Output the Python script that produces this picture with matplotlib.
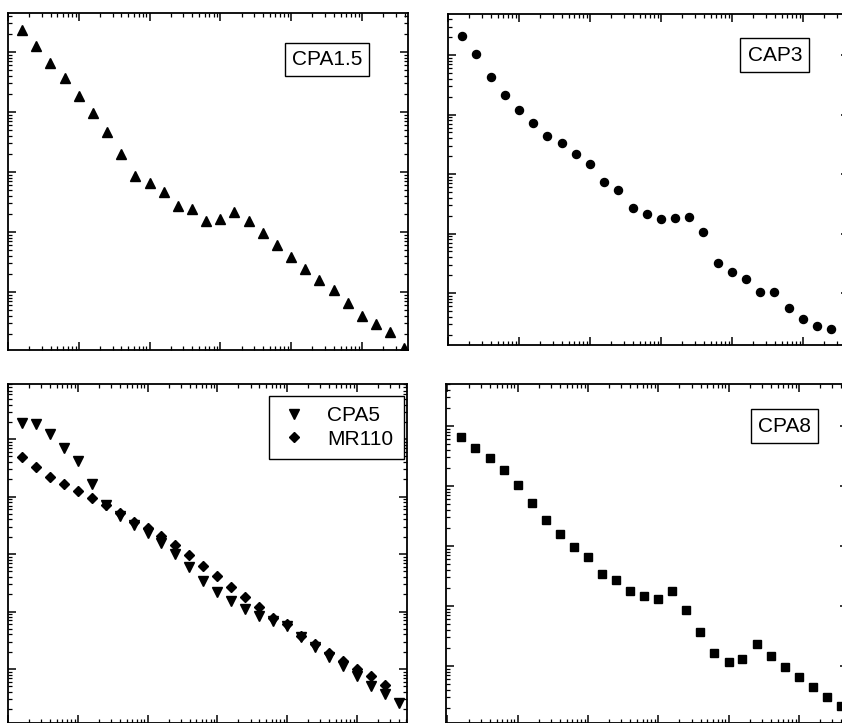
import numpy as np
import matplotlib
matplotlib.use("Agg")
import matplotlib.pyplot as plt
from matplotlib.ticker import NullFormatter

plt.rcParams["font.family"] = ["Liberation Sans", "DejaVu Sans"]

# x positions (same grid in all panels)
x = [1.58, 2.51, 3.98, 6.31, 10, 15.8, 25.1, 39.8, 63.1, 100,
     158, 251, 398, 631, 1000, 1580, 2510, 3980, 6310, 10000,
     15800, 25100, 39800, 63100, 100000, 158000, 251000, 398000]

# y values, as log10
cpa15_log = [4.36, 4.10, 3.81, 3.56, 3.27, 2.98, 2.66, 2.30, 1.93, 1.82,
             1.66, 1.44, 1.38, 1.19, 1.21, 1.33, 1.19, 0.99, 0.78, 0.59,
             0.39, 0.20, 0.03, -0.19, -0.40, -0.53, -0.67, -0.94]
cap3_log = [4.32, 4.01, 3.63, 3.33, 3.07, 2.85, 2.64, 2.52, 2.34, 2.17,
            1.86, 1.73, 1.43, 1.32, 1.25, 1.26, 1.27, 1.02, 0.51, 0.35,
            0.24, 0.02, 0.01, -0.26, -0.44, -0.55, -0.61]
cpa5_log = [4.28, 4.27, 4.09, 3.84, 3.62, 3.22, 2.85, 2.66, 2.50, 2.36,
            2.19, 2.01, 1.77, 1.54, 1.34, 1.19, 1.05, 0.92, 0.83, 0.75,
            0.56, 0.38, 0.21, 0.05, -0.12, -0.30, -0.44, -0.59]
mr110_log = [3.69, 3.52, 3.35, 3.22, 3.10, 2.98, 2.86, 2.72, 2.56, 2.45,
             2.31, 2.16, 1.98, 1.80, 1.62, 1.43, 1.26, 1.08, 0.89, 0.78,
             0.57, 0.43, 0.27, 0.14, 0.00, -0.12, -0.27]
cpa8_log = [3.82, 3.64, 3.47, 3.27, 3.01, 2.72, 2.44, 2.20, 1.98, 1.81,
            1.53, 1.44, 1.25, 1.17, 1.11, 1.25, 0.94, 0.57, 0.22, 0.07,
            0.11, 0.36, 0.16, -0.02, -0.19, -0.35, -0.52, -0.66]


def style_axis(ax, xlim, ylim):
    ax.set_xscale("log")
    ax.set_yscale("log")
    ax.set_xlim(10 ** xlim[0], 10 ** xlim[1])
    ax.set_ylim(10 ** ylim[0], 10 ** ylim[1])
    ax.tick_params(which="both", direction="in", top=True, right=True,
                   labelbottom=False, labelleft=False)
    ax.tick_params(which="major", length=6, width=1.1)
    ax.tick_params(which="minor", length=3, width=0.9)
    ax.xaxis.set_minor_formatter(NullFormatter())
    ax.yaxis.set_minor_formatter(NullFormatter())
    for s in ax.spines.values():
        s.set_linewidth(1.3)


def label_box(ax, text, xa, ya):
    ax.text(xa, ya, text, transform=ax.transAxes, ha="center", va="center",
            fontsize=15,
            bbox=dict(boxstyle="square,pad=0.35", fc="white", ec="black", lw=1.0))


W, H = 842, 723
fig = plt.figure(figsize=(W / 100, H / 100), dpi=100)

ax1 = fig.add_axes([8 / W, (H - 350) / H, 400 / W, 337 / H])
ax2 = fig.add_axes([448 / W, (H - 345) / H, 401 / W, 331 / H])
ax3 = fig.add_axes([8 / W, 0, 399 / W, 339 / H])
ax4 = fig.add_axes([446 / W, 0, 402 / W, 339 / H])

xs = np.array(x)

ax1.plot(xs, 10 ** np.array(cpa15_log), "^", color="black", ms=7.5, ls="none")
style_axis(ax1, (0, 5.65), (-0.967, 4.65))
label_box(ax1, "CPA1.5", 0.7975, 0.862)

ax2.plot(xs[:len(cap3_log)], 10 ** np.array(cap3_log), "o", color="black", ms=5.8, ls="none")
style_axis(ax2, (0, 5.65), (-0.874, 4.69))
label_box(ax2, "CAP3", 0.815, 0.876)

ax3.plot(xs, 10 ** np.array(cpa5_log), "v", color="black", ms=7, ls="none", label="CPA5")
ax3.plot(xs[:len(mr110_log)], 10 ** np.array(mr110_log), "D", color="black", ms=5,
         ls="none", label="MR110")
style_axis(ax3, (0, 5.72), (-0.94, 4.96))
leg = ax3.legend(loc="upper right", bbox_to_anchor=(0.9925, 0.9646), fontsize=15,
                 frameon=True, fancybox=False, edgecolor="black", framealpha=1,
                 handlelength=1.4, handletextpad=0.9, labelspacing=0.2,
                 borderpad=0.5, borderaxespad=0)
leg.get_frame().set_linewidth(1.0)

ax4.plot(xs, 10 ** np.array(cpa8_log), "s", color="black", ms=5.5, ls="none")
style_axis(ax4, (-0.02, 5.70), (-0.95, 4.70))
label_box(ax4, "CPA8", 0.842, 0.876)

fig.savefig("out.png", dpi=100)
